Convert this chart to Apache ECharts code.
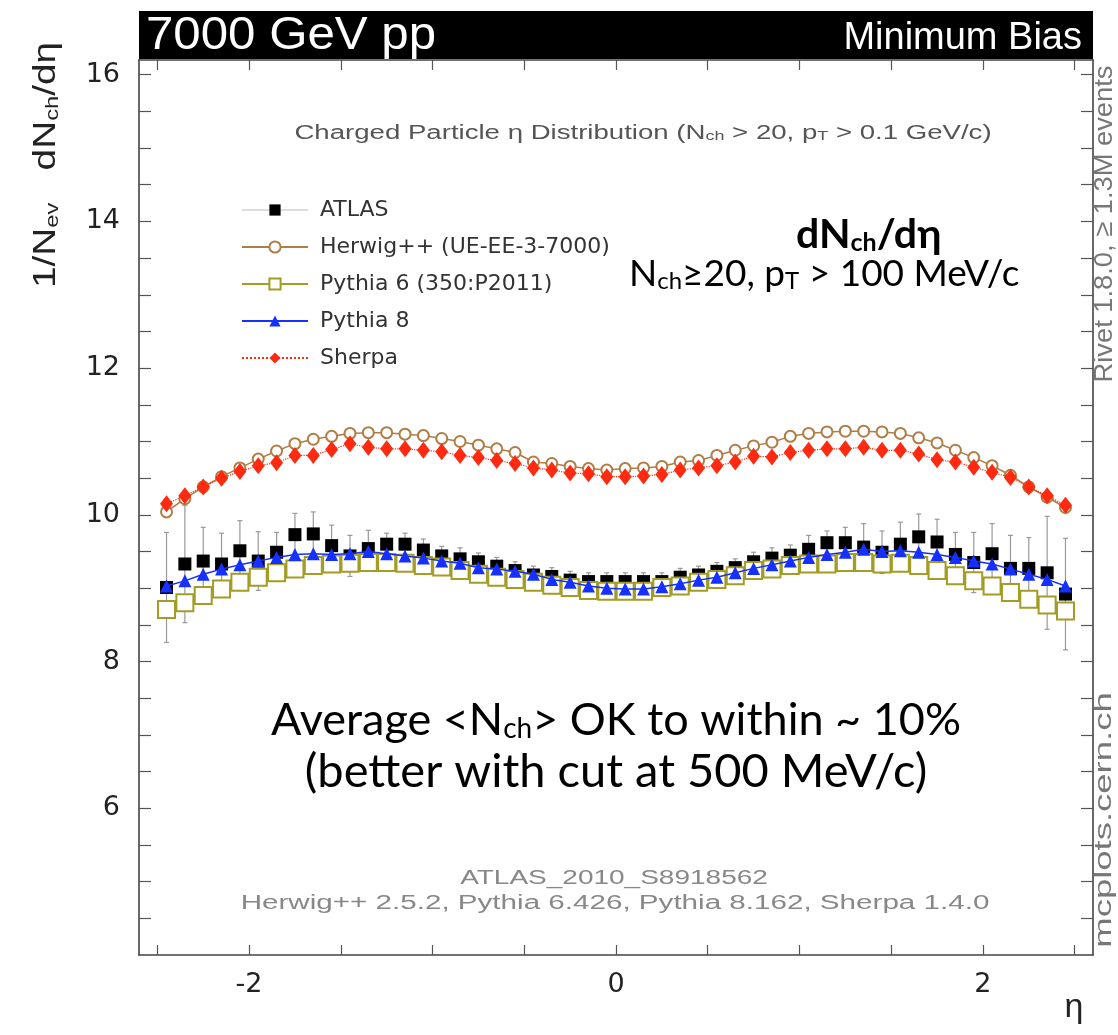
<!DOCTYPE html>
<html>
<head>
<meta charset="utf-8">
<script src="https://cdn.jsdelivr.net/npm/echarts@6/dist/echarts.min.js"></script>
<style>
html,body{margin:0;padding:0;background:#fff;}
#c{width:1118px;height:1035px;}
</style>
</head>
<body>
<div id="c"></div>
<script>
// η bin centres
const eta = [-2.45,-2.35,-2.25,-2.15,-2.05,-1.95,-1.85,-1.75,-1.65,-1.55,-1.45,-1.35,-1.25,-1.15,-1.05,-0.95,-0.85,-0.75,-0.65,-0.55,-0.45,-0.35,-0.25,-0.15,-0.05,
             0.05,0.15,0.25,0.35,0.45,0.55,0.65,0.75,0.85,0.95,1.05,1.15,1.25,1.35,1.45,1.55,1.65,1.75,1.85,1.95,2.05,2.15,2.25,2.35,2.45];
const atlas = [9.01,9.33,9.37,9.33,9.51,9.37,9.49,9.73,9.74,9.58,9.44,9.54,9.60,9.60,9.52,9.44,9.40,9.36,9.30,9.24,9.18,9.16,9.11,9.09,9.09,
               9.09,9.09,9.09,9.15,9.18,9.23,9.28,9.36,9.41,9.45,9.53,9.62,9.62,9.56,9.49,9.60,9.70,9.63,9.46,9.35,9.47,9.27,9.27,9.21,8.92];
const atlasErr = [0.75,0.80,0.46,0.42,0.41,0.40,0.27,0.29,0.30,0.28,0.28,0.25,0.15,0.15,0.15,0.13,0.15,0.12,0.12,0.12,0.12,0.12,0.12,0.12,0.12,
                  0.12,0.12,0.12,0.12,0.12,0.12,0.12,0.13,0.14,0.14,0.19,0.16,0.21,0.32,0.29,0.30,0.31,0.31,0.30,0.41,0.41,0.45,0.42,0.77,0.76];
const herwig = [10.04,10.22,10.38,10.52,10.64,10.76,10.87,10.97,11.03,11.07,11.11,11.12,11.12,11.10,11.08,11.04,11.00,10.95,10.90,10.85,10.72,10.70,10.66,10.63,10.61,
                10.63,10.64,10.66,10.72,10.74,10.81,10.88,10.94,10.99,11.07,11.11,11.13,11.14,11.14,11.13,11.11,11.05,10.98,10.88,10.78,10.67,10.54,10.38,10.24,10.10];
const pythia6 = [8.71,8.80,8.90,8.99,9.08,9.15,9.21,9.26,9.31,9.33,9.34,9.35,9.35,9.34,9.31,9.29,9.24,9.19,9.15,9.12,9.08,9.04,9.01,8.97,8.96,
                 8.96,8.96,9.01,9.03,9.08,9.12,9.17,9.24,9.26,9.31,9.33,9.33,9.35,9.35,9.33,9.34,9.31,9.24,9.17,9.10,9.03,8.94,8.85,8.77,8.69];
const pythia8 = [9.03,9.10,9.19,9.26,9.32,9.37,9.42,9.46,9.47,9.46,9.47,9.50,9.47,9.44,9.41,9.37,9.34,9.28,9.26,9.23,9.19,9.12,9.08,9.03,9.00,
                 8.99,8.99,9.02,9.06,9.11,9.15,9.21,9.27,9.32,9.37,9.42,9.46,9.49,9.53,9.50,9.51,9.49,9.46,9.42,9.37,9.33,9.26,9.19,9.12,9.03];
const sherpa = [10.15,10.26,10.38,10.50,10.59,10.67,10.71,10.81,10.81,10.89,10.97,10.92,10.90,10.90,10.88,10.86,10.81,10.78,10.74,10.70,10.64,10.61,10.57,10.56,10.52,
                10.52,10.53,10.55,10.61,10.64,10.67,10.72,10.80,10.79,10.85,10.88,10.90,10.90,10.92,10.88,10.88,10.83,10.75,10.72,10.65,10.58,10.51,10.38,10.26,10.13];
const xTicks = [-2.5,-2,-1.5,-1,-0.5,0,0.5,1,1.5,2,2.5];
const xLabels = [-2,0,2];
const yTicks = [4.5,5,5.5,6,6.5,7,7.5,8,8.5,9,9.5,10,10.5,11,11.5,12,12.5,13,13.5,14,14.5,15,15.5,16];
const yLabels = [6,8,10,12,14,16];
const seriesNames = ['ATLAS','Herwig++ (UE-EE-3-7000)','Pythia 6 (350:P2011)','Pythia 8','Sherpa'];

const pairs = arr => arr.map((v,i)=>[eta[i], v]);
const FONT = '"Liberation Sans", Arial, sans-serif';
const WIDE = '"DejaVu Sans", "Liberation Sans", sans-serif';
const ANN = 'Lato, "Open Sans", sans-serif';

const chart = echarts.init(document.getElementById('c'), null, {renderer:'canvas'});

const axisCommon = {
  axisLine:{show:true, onZero:false, lineStyle:{color:'#444', width:1.6}},
  splitLine:{show:false}
};

const option = {
  animation:false,
  backgroundColor:'#fff',
  grid:{left:139, right:25, top:60, bottom:80},
  xAxis:[
    Object.assign({type:'value', min:-2.6, max:2.6, position:'bottom',
      axisTick:{show:true, inside:true, length:10, customValues:xTicks, lineStyle:{color:'#555', width:1.2}},
      axisLabel:{show:true, customValues:xLabels, margin:16, fontSize:27, color:'#222', fontFamily:WIDE}}, axisCommon),
    Object.assign({type:'value', min:-2.6, max:2.6, position:'top',
      axisTick:{show:true, inside:true, length:10, customValues:xTicks, lineStyle:{color:'#555', width:1.2}},
      axisLabel:{show:false}}, axisCommon)
  ],
  yAxis:[
    Object.assign({type:'value', min:4, max:16.2, position:'left',
      axisTick:{show:true, inside:true, length:12, customValues:yTicks, lineStyle:{color:'#555', width:1.2}},
      axisLabel:{show:true, customValues:yLabels, margin:19, fontSize:27, color:'#222', fontFamily:WIDE}}, axisCommon),
    Object.assign({type:'value', min:4, max:16.2, position:'right',
      axisTick:{show:true, inside:true, length:12, customValues:yTicks, lineStyle:{color:'#555', width:1.2}},
      axisLabel:{show:false}}, axisCommon)
  ],
  legend:{
    orient:'vertical', left:236, top:193, itemWidth:66, itemHeight:14, itemGap:13,
    textStyle:{fontSize:22, color:'#333', fontFamily:WIDE, lineHeight:24, padding:[0,0,0,7]},
    data:[
      {name:seriesNames[0], lineStyle:{color:'#bbb', width:1.2, opacity:1}},
      {name:seriesNames[1]},
      {name:seriesNames[2]},
      {name:seriesNames[3]},
      {name:seriesNames[4]}
    ]
  },
  series:[
    {
      type:'custom', name:'ATLAS err', z:1, silent:true,
      data: eta.map((x,i)=>[x, atlas[i]-atlasErr[i], atlas[i]+atlasErr[i]]),
      renderItem:function(params, api){
        const lo = api.coord([api.value(0), api.value(1)]);
        const hi = api.coord([api.value(0), api.value(2)]);
        const st = {stroke:'#999', lineWidth:1.2};
        return {type:'group', children:[
          {type:'line', shape:{x1:lo[0],y1:lo[1],x2:hi[0],y2:hi[1]}, style:st},
          {type:'line', shape:{x1:lo[0]-2.5,y1:lo[1],x2:lo[0]+2.5,y2:lo[1]}, style:st},
          {type:'line', shape:{x1:hi[0]-2.5,y1:hi[1],x2:hi[0]+2.5,y2:hi[1]}, style:st}
        ]};
      }
    },
    {
      name:seriesNames[0], type:'line', z:2, data:pairs(atlas),
      symbol:'rect', symbolSize:13, showAllSymbol:true,
      itemStyle:{color:'#000'}, lineStyle:{width:0, opacity:0}
    },
    {
      name:seriesNames[1], type:'line', z:3, data:pairs(herwig),
      symbol:'emptyCircle', symbolSize:11, showAllSymbol:true,
      itemStyle:{color:'#b07d45', borderWidth:1.5}, lineStyle:{color:'#b07d45', width:1.5}
    },
    {
      name:seriesNames[2], type:'line', z:4, data:pairs(pythia6),
      symbol:'emptyRect', symbolSize:17, showAllSymbol:true,
      itemStyle:{color:'#a39c25', borderWidth:1.5}, lineStyle:{color:'#a39c25', width:2.5}
    },
    {
      name:seriesNames[3], type:'line', z:5, data:pairs(pythia8),
      symbol:'triangle', symbolSize:13, showAllSymbol:true,
      itemStyle:{color:'#1530ff'}, lineStyle:{color:'#1530ff', width:1.5}
    },
    {
      name:seriesNames[4], type:'line', z:6, data:pairs(sherpa),
      symbol:'diamond', symbolSize:[13,17], showAllSymbol:true,
      itemStyle:{color:'#ff2a10'}, lineStyle:{color:'#ff2a10', width:1.2, type:'dotted'}
    }
  ],
  graphic:[
    {type:'rect', left:139, top:11, shape:{width:954, height:48}, style:{fill:'#000'}, z:10},
    {type:'text', x:146, y:13, scaleX:1.07, z:11, style:{text:'7000 GeV pp', fill:'#fff', font:'46px '+FONT, textAlign:'left', textVerticalAlign:'top'}},
    {type:'text', x:1082, y:20, z:11, style:{text:'Minimum Bias', fill:'#fff', font:'38px '+FONT, textAlign:'right', textVerticalAlign:'top'}},
    // y axis title
    {type:'text', x:44, y:165, rotation:Math.PI/2, scaleX:1.25, z:11, style:{
      text:'{m|1/N}{s|ev}{m|   dN}{s|ch}{m|/dη}', textAlign:'center', textVerticalAlign:'middle', fill:'#222',
      rich:{m:{fontSize:31, fontFamily:FONT, fill:'#222', lineHeight:36, verticalAlign:'bottom'},
            s:{fontSize:19, fontFamily:FONT, fill:'#222', lineHeight:30, verticalAlign:'bottom'}}}},
    {type:'text', x:1074, y:1008, z:11, style:{text:'η', font:'34px '+FONT, fill:'#222', textAlign:'center', textVerticalAlign:'middle'}},
    // right side texts
    {type:'text', x:1105, y:224, rotation:Math.PI/2, scaleX:1.05, z:11, style:{text:'Rivet 1.8.0, ≥ 1.3M events', font:'26px '+FONT, fill:'#777', textAlign:'center', textVerticalAlign:'middle'}},
    {type:'text', x:1104, y:820, rotation:Math.PI/2, scaleX:1.52, z:11, style:{text:'mcplots.cern.ch', font:'24px '+FONT, fill:'#777', textAlign:'center', textVerticalAlign:'middle'}},
    // plot title
    {type:'text', x:643, y:130, scaleX:1.38, z:11, style:{
      text:'{m|Charged Particle η Distribution (N}{s|ch}{m| > 20, p}{s|T}{m| > 0.1 GeV/c)}', textAlign:'center', textVerticalAlign:'middle',
      rich:{m:{fontSize:20, fontFamily:FONT, fill:'#555', lineHeight:26, verticalAlign:'bottom'},
            s:{fontSize:13, fontFamily:FONT, fill:'#555', lineHeight:20, verticalAlign:'bottom'}}}},
    // annotations
    {type:'text', left:796, top:214, z:11, style:{
      text:'{b|dN}{bs|ch}{b|/dη}',
      rich:{b:{fontSize:41, fontWeight:'bold', fontFamily:ANN, fill:'#000', lineHeight:44, verticalAlign:'bottom'},
            bs:{fontSize:25, fontWeight:'bold', fontFamily:ANN, fill:'#000', lineHeight:38, verticalAlign:'bottom'}}}},
    {type:'text', x:629, y:273, z:11, style:{
      text:'{m|N}{s|ch}{m|≥20, p}{s|T}{m| > 100 MeV/c}', textAlign:'left', textVerticalAlign:'middle',
      rich:{m:{fontSize:37, fontFamily:ANN, fill:'#000', lineHeight:40, verticalAlign:'bottom'},
            s:{fontSize:24, fontFamily:ANN, fill:'#000', lineHeight:34, verticalAlign:'bottom'}}}},
    {type:'text', x:616, y:718, z:11, style:{
      text:'{m|Average <N}{s|ch}{m|> OK to within ~ 10%}', textAlign:'center', textVerticalAlign:'middle',
      rich:{m:{fontSize:45, fontFamily:ANN, fill:'#000', lineHeight:50, verticalAlign:'bottom'},
            s:{fontSize:28, fontFamily:ANN, fill:'#000', lineHeight:42, verticalAlign:'bottom'}}}},
    {type:'text', x:616, y:772, z:11, style:{text:'(better with cut at 500 MeV/c)', font:'47px '+ANN, fill:'#000', textAlign:'center', textVerticalAlign:'middle'}},
    {type:'text', x:614, y:878, scaleX:1.4, z:11, style:{text:'ATLAS_2010_S8918562', font:'20px '+FONT, fill:'#888', textAlign:'center', textVerticalAlign:'middle'}},
    {type:'text', x:615, y:903, scaleX:1.48, z:11, style:{text:'Herwig++ 2.5.2, Pythia 6.426, Pythia 8.162, Sherpa 1.4.0', font:'20px '+FONT, fill:'#888', textAlign:'center', textVerticalAlign:'middle'}}
  ]
};
chart.setOption(option);
</script>
</body>
</html>
